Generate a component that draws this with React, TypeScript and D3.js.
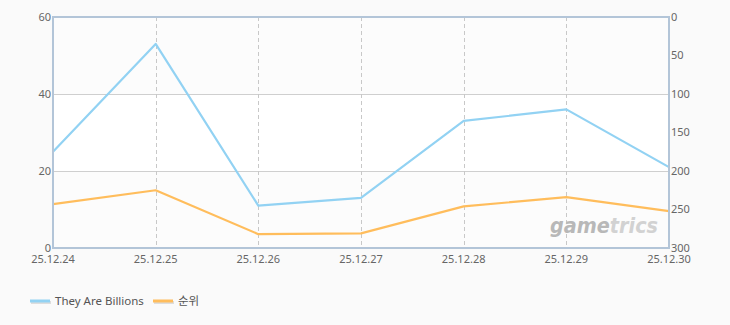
import React from "react";
import * as d3 from "d3";

const categories = ["25.12.24", "25.12.25", "25.12.26", "25.12.27", "25.12.28", "25.12.29", "25.12.30"];
const playerValues = [25, 53, 11, 13, 33, 36, 21];
const rankValues = [243, 225, 282, 281, 246, 234, 252];
const leftTicks = [0, 20, 40, 60];
const rightTicks = [0, 50, 100, 150, 200, 250, 300];
const seriesNames = ["They Are Billions", "순위"];

const W = 730;
const H = 325;
const left = 53;
const right = 669;
const top = 17;
const bottom = 248;

const BLUE = "#92d2f3";
const ORANGE = "#ffbd5c";
const FONT = "'Noto Sans', 'Noto Sans CJK KR', sans-serif";

export default function App() {
  const x = d3.scalePoint<string>().domain(categories).range([left, right]);
  const yL = d3.scaleLinear().domain([0, 60]).range([bottom, top]);
  const yR = d3.scaleLinear().domain([0, 300]).range([top, bottom]);

  const lineL = d3
    .line<number>()
    .x((_, i) => x(categories[i]) as number)
    .y((d) => yL(d));
  const lineR = d3
    .line<number>()
    .x((_, i) => x(categories[i]) as number)
    .y((d) => yR(d));

  const bands = [
    [60, 40, "#fcfcfc"],
    [40, 20, "#ffffff"],
    [20, 0, "#fcfcfc"],
  ] as const;

  return (
    <div style={{ position: "fixed", left: 0, top: 0, width: W, height: H }}>
      <svg width={W} height={H} style={{ display: "block", background: "#fafafa" }}>
        {bands.map(([a, b, c], i) => (
          <rect key={i} x={left} y={yL(a)} width={right - left} height={yL(b) - yL(a)} fill={c} />
        ))}
        {leftTicks.filter((t) => t > 0 && t < 60).map((t) => (
          <line key={t} x1={left} x2={right} y1={yL(t) + 0.5} y2={yL(t) + 0.5} stroke="#cfcfcf" strokeWidth={1} />
        ))}
        {categories.slice(1, -1).map((c) => (
          <line
            key={c}
            x1={Math.round(x(c) as number) + 0.5}
            x2={Math.round(x(c) as number) + 0.5}
            y1={top}
            y2={bottom}
            stroke="#c8c8c8"
            strokeWidth={1}
            strokeDasharray="4,3"
          />
        ))}
        <text x={550} y={233} fontFamily="'DejaVu Sans', sans-serif" fontWeight="bold" fontStyle="italic" fontSize={21} fill="#b8b8b8" textLength={108} lengthAdjust="spacingAndGlyphs">
          <tspan>game</tspan>
          <tspan fill="#d2d2d2">trics</tspan>
        </text>
        <path d={lineL(playerValues) || ""} fill="none" stroke={BLUE} strokeWidth={2.2} strokeLinejoin="round" />
        <path d={lineR(rankValues) || ""} fill="none" stroke={ORANGE} strokeWidth={2.2} strokeLinejoin="round" />
        <rect x={left} y={top} width={right - left} height={bottom - top} fill="none" stroke="#b3c5d8" strokeWidth={2} />
        {leftTicks.map((t) => (
          <text key={t} x={51} y={yL(t)} dy="0.33em" textAnchor="end" fontFamily={FONT} fontSize={11} fill="#666">
            {t}
          </text>
        ))}
        {rightTicks.map((t) => (
          <text key={t} x={671} y={yR(t)} dy="0.33em" textAnchor="start" fontFamily={FONT} fontSize={11} fill="#666">
            {t}
          </text>
        ))}
        {categories.map((c) => (
          <text key={c} x={x(c) as number} y={263} textAnchor="middle" fontFamily={FONT} fontSize={11} fill="#666">
            {c}
          </text>
        ))}
        {[BLUE, ORANGE].map((col, i) => {
          const lx = i === 0 ? 30 : 153;
          return (
            <g key={i}>
              <line x1={lx + 1} x2={lx + 21} y1={302.5} y2={302.5} stroke="#dddddd" strokeWidth={3} />
              <line x1={lx} x2={lx + 20} y1={301} y2={301} stroke={col} strokeWidth={3} />
              <text x={lx + 25} y={305} fontFamily={FONT} fontSize={11.5} fill="#555">
                {seriesNames[i]}
              </text>
            </g>
          );
        })}
      </svg>
    </div>
  );
}
